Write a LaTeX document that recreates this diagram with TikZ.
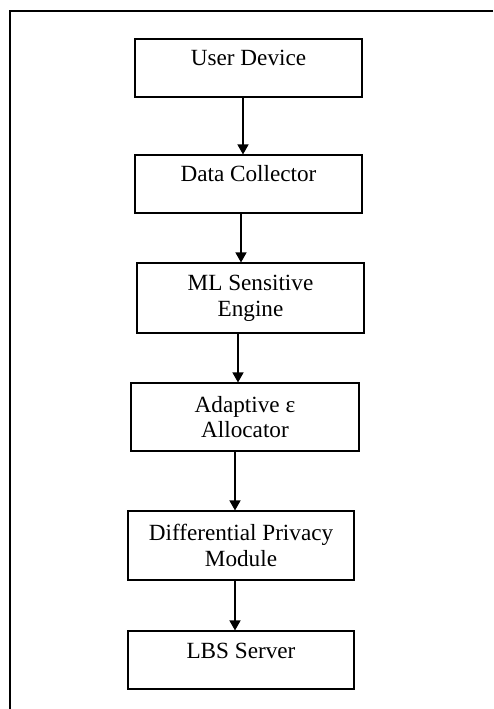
\documentclass[tikz,border=0pt]{standalone}
\usepackage{fontspec}
\setmainfont{Liberation Serif}
\usetikzlibrary{arrows.meta}
\tikzset{>={Triangle[width=0.22cm,length=0.2cm]}}
\tikzset{stage/.style={draw,line width=0.65pt,align=center,inner sep=0pt,minimum width=4.54cm,font=\fontsize{13.2}{14.7}\selectfont}}
\tikzset{stagetop/.style={stage,text height=0.54cm,text depth=0.62cm}}
\tikzset{flow/.style={->,line width=0.8pt}}

\begin{document}
\begin{tikzpicture}[x=0.02cm,y=-0.02cm]
      \useasboundingbox (0,0) rectangle (493,709);
      \draw[line width=1.5pt] (493,11) -- (10,11) -- (10,709);
      \node[stagetop] (udev) at (248.5,68) {User Device};
      \node[stagetop] (dcol) at (248.5,184) {Data Collector};
      \node[stage,minimum height=1.4cm] (mlse) at (250.5,298) {ML Sensitive\\Engine};
      \node[stage,minimum height=1.36cm,minimum width=4.56cm] (aeps) at (245,417) {Adaptive ε\\Allocator};
      \node[stage,minimum height=1.38cm,minimum width=4.52cm] (dpmod) at (241,545.5) {Differential Privacy\\Module};
      \node[stagetop,minimum width=4.52cm] (lbs) at (241,660) {LBS Server};
      \draw[flow] ([xshift=-0.11cm]udev.south) -- ([xshift=-0.11cm]udev.south |- dcol.north);
      \draw[flow] ([xshift=-0.15cm]dcol.south) -- ([xshift=-0.15cm]dcol.south |- mlse.north);
      \draw[flow] ([xshift=-0.25cm]mlse.south) -- ([xshift=-0.25cm]mlse.south |- aeps.north);
      \draw[flow] ([xshift=-0.2cm]aeps.south) -- ([xshift=-0.2cm]aeps.south |- dpmod.north);
      \draw[flow] ([xshift=-0.12cm]dpmod.south) -- ([xshift=-0.12cm]dpmod.south |- lbs.north);
    \end{tikzpicture}
\end{document}
